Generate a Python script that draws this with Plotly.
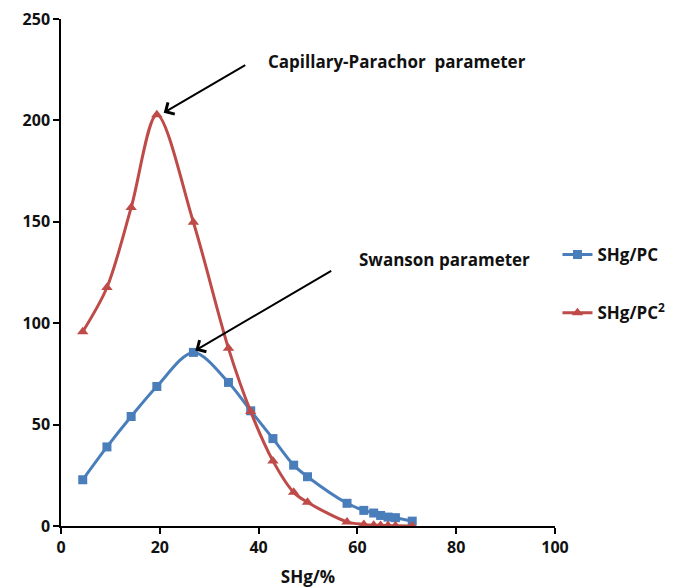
import plotly.graph_objects as go

shg = [4.4, 9.3, 14.2, 19.4, 26.8, 33.9, 38.4, 42.9, 47.1, 49.9, 57.9, 61.3, 63.3, 64.7, 66.2, 67.7, 71.1]
shg_pc = [22.8, 39.0, 54.0, 68.8, 85.6, 70.8, 56.8, 43.1, 30.0, 24.3, 11.2, 7.7, 6.4, 5.2, 4.4, 4.1, 2.4]
shg_pc2 = [95.8, 117.6, 157.0, 202.8, 149.8, 87.6, 56.4, 32.1, 16.6, 11.7, 2.0, 0.8, 0.4, 0.3, 0.2, 0.1, 0.05]

x_ticks = [0, 20, 40, 60, 80, 100]
y_ticks = [0, 50, 100, 150, 200, 250]

blue = "#4A7EBB"
red = "#BE4B48"
FONT = "Open Sans"

fig = go.Figure()
fig.add_trace(go.Scatter(
    x=shg, y=shg_pc, mode="lines+markers", name="SHg/PC",
    line=dict(color=blue, width=3, shape="spline", smoothing=0.9),
    marker=dict(symbol="square", size=9, color=blue),
    legendgroup="a",
))
fig.add_trace(go.Scatter(
    x=shg, y=shg_pc2, mode="lines+markers", name="SHg/PC<sup>2</sup>",
    line=dict(color=red, width=3, shape="spline", smoothing=0.9),
    marker=dict(symbol="triangle-up", size=10, color=red),
    legendgroup="b",
))

axis_common = dict(
    showgrid=False, zeroline=False, showline=True, linecolor="black", linewidth=1.5,
    ticks="outside", ticklen=6, tickwidth=1.5, tickcolor="black", automargin=False,
    ticklabeloverflow="allow",
    tickfont=dict(family=FONT, size=16, color="#111111", weight="bold"),
)

fig.update_xaxes(range=[0, 100], tickvals=x_ticks, **axis_common,
                 title=dict(text="SHg/%", font=dict(family=FONT, size=17, color="#111111", weight="bold")))
fig.update_yaxes(range=[0, 250], tickvals=y_ticks, **axis_common)

ann_font = dict(family=FONT, size=17, color="#111111", weight="bold")
fig.add_annotation(x=20.8, y=203.8, ax=37.6, ay=227.7, xref="x", yref="y", axref="x", ayref="y",
                   text="", showarrow=True, arrowhead=4, arrowsize=1.3, arrowwidth=2, arrowcolor="black")
fig.add_annotation(x=27.2, y=86.6, ax=55.0, ay=126.2, xref="x", yref="y", axref="x", ayref="y",
                   text="", showarrow=True, arrowhead=4, arrowsize=1.3, arrowwidth=2, arrowcolor="black")
fig.add_annotation(x=41.5, y=229, xref="x", yref="y", xanchor="left", yanchor="middle",
                   text="Capillary-Parachor\u00a0 parameter", showarrow=False, font=ann_font)
fig.add_annotation(x=60.0, y=131.3, xref="x", yref="y", xanchor="left", yanchor="middle",
                   text="Swanson parameter", showarrow=False, font=ann_font)

# page body has an 8px default margin, so the figure is sized and padded to land on the window
fig.update_layout(
    width=665, height=580,
    margin=dict(l=53, r=118, t=11, b=62, autoexpand=False),
    paper_bgcolor="white", plot_bgcolor="white",
    showlegend=True,
    legend=dict(x=1.005, y=0.57, xanchor="left", yanchor="top", traceorder="grouped",
                tracegroupgap=33, font=dict(family=FONT, size=17, color="#111111", weight="bold"),
                bgcolor="rgba(0,0,0,0)"),
)

fig.write_html("out.html")
